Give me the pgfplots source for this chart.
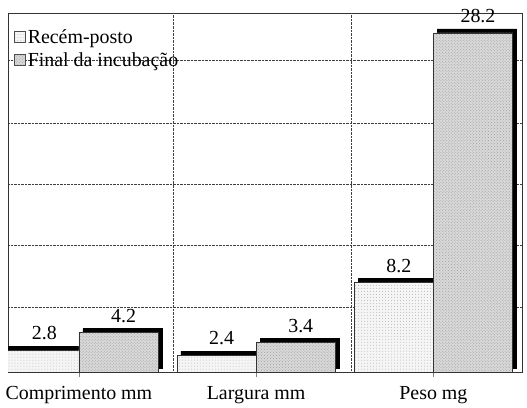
\documentclass[border=0pt]{standalone}
\usepackage{pgfplots}
\pgfplotsset{compat=1.18}
\usepackage{fontspec}
\setmainfont{Liberation Serif}
\usetikzlibrary{patterns}
\pgfplotstableread{
x v
0 2.8
1 2.4
2 8.2
}\recem
\pgfplotstableread{
x v
0 4.2
1 3.4
2 28.2
}\final
\begin{document}
\begin{tikzpicture}
\begin{axis}[
  width=514bp, height=359bp, scale only axis,
  xmin=-0.4, xmax=2.5,
  ymin=1.04, ymax=29.8,
  ybar, bar width=0.447,
  xtick={0,1,2},
  xticklabels={Comprimento mm, Largura mm, Peso mg},
  xtick pos=bottom, tick align=outside, major tick length=5bp,
  x tick label style={font=\fontsize{20}{23}\selectfont, yshift=-6bp},
  ytick={6.25,11.2,16.1,21.0,26.0},
  yticklabels={},
  ymajorgrids,
  ytick style={draw=none},
  grid style={densely dotted, black!75, line width=0.6pt},
  extra x ticks={0.535,1.535},
  extra x tick labels={},
  extra x tick style={grid=major, major tick length=0pt},
  axis line style={black!80, line width=0.6pt},
  /pgf/number format/assume math mode=true,
  legend style={draw=none, fill=none, at={(0.012,0.96)}, anchor=north west,
    font=\fontsize{20}{23}\selectfont, inner sep=0pt, row sep=4bp,
    cells={anchor=west}},
  legend cell align=left,
  legend image code/.code={\draw[#1, draw=black!70, line width=0.4pt] (0bp,-5bp) rectangle (11bp,6bp);},
]
% shadow (3D top and side)
\addplot[fill=black, draw=black, bar shift=-0.2235, xshift=4bp, yshift=4bp, forget plot] table[x=x,y=v] {\recem};
\addplot[fill=black, draw=black, bar shift=0.2235, xshift=4bp, yshift=4bp, forget plot] table[x=x,y=v] {\final};
% front faces
\addplot[fill=gray!8, draw=black!80, line width=0.5pt, bar shift=-0.2235,
  postaction={pattern=dots, pattern color=gray!55},
  nodes near coords,
  nodes near coords style={anchor=south, inner sep=0pt, yshift=10bp, xshift=5bp, font=\fontsize{20}{23}\selectfont, text=black}]
  table[x=x,y=v] {\recem};
\addlegendentry{Recém-posto}
\addplot[fill=gray!30, draw=black!80, line width=0.5pt, bar shift=0.2235,
  postaction={pattern=crosshatch dots, pattern color=gray!75},
  nodes near coords,
  nodes near coords style={anchor=south, inner sep=0pt, yshift=10bp, xshift=5bp, font=\fontsize{20}{23}\selectfont, text=black}]
  table[x=x,y=v] {\final};
\addlegendentry{Final da incubação}
\coordinate (sw) at (rel axis cs:0,0);
\coordinate (ne) at (rel axis cs:1,1);
\end{axis}
\pgfresetboundingbox
\path[use as bounding box] ([shift={(-8bp,-36bp)}]sw) rectangle ([shift={(5bp,13bp)}]ne);
\end{tikzpicture}
\end{document}
